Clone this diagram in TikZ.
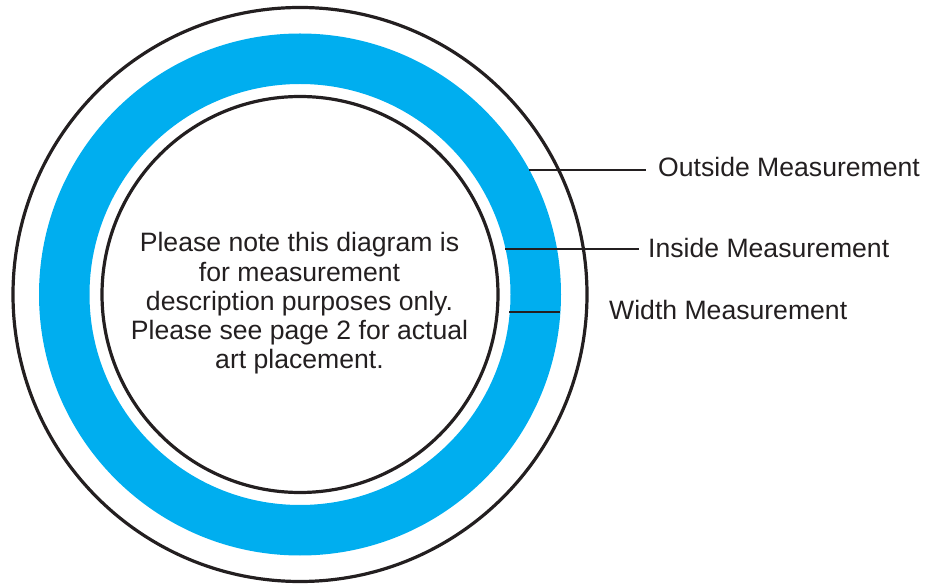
\documentclass[tikz,border=0pt]{standalone}
\usepackage{fontspec}
\setmainfont{Liberation Sans}
\definecolor{ringblue}{HTML}{00AEEF}
\definecolor{ink}{HTML}{231F20}
\tikzset{
  rim/.style={draw=ink, line width=3.2pt},
  leader/.style={draw=ink, line width=1.1pt},
  lbl/.style={font=\fontsize{26.6}{29.3}\selectfont, text=ink, inner sep=0pt},
}
\begin{document}
\begin{tikzpicture}[x=1pt, y=-1pt]
\useasboundingbox (0,0) rectangle (930,585);
\coordinate (c) at (300,294.5);
% blue ring
\fill[ringblue, even odd rule] (c) circle[radius=261pt] (c) circle[radius=210.5pt];
% black circles
\draw[rim] (c) circle[radius=287pt];
\draw[rim] (c) circle[radius=198pt];
% center text
\node[lbl, align=center] (note) at (299.5,303.5) {Please note this diagram is\\for measurement\\description purposes only.\\Please see page 2 for actual\\art placement.};
% labels
\node[lbl, anchor=base west] (outl) at (658,176.7) {Outside Measurement};
\node[lbl, anchor=base west] (inl) at (648,258) {Inside Measurement};
\node[lbl, anchor=base west] (widl) at (609,320) {Width Measurement};
% leader lines
\coordinate (o1) at (529.4,170);
\coordinate (i1) at (505,249);
\coordinate (w1) at (509.3,312);
\coordinate (w2) at (560.4,312);
\draw[leader] (o1) -- ([xshift=-12pt]o1 -| outl.west);
\draw[leader] (i1) -- ([xshift=-9pt]i1 -| inl.west);
\draw[leader] (w1) -- (w2);
\end{tikzpicture}
\end{document}
